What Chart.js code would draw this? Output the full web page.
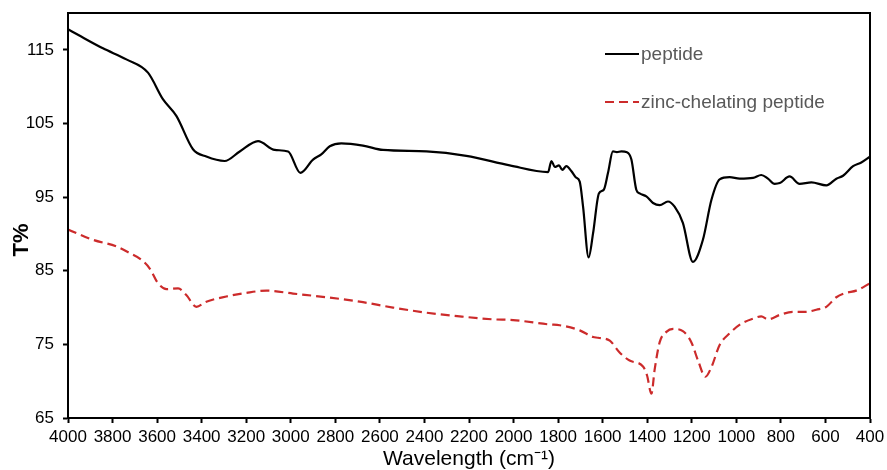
<!DOCTYPE html>
<html>
<head>
<meta charset="utf-8">
<script src="https://cdn.jsdelivr.net/npm/chart.js@4.4.1/dist/chart.umd.min.js"></script>
<style>
  body { margin: 0; background: #fff; }
  canvas { display: block; }
</style>
</head>
<body>
<canvas id="ftir" width="887" height="470"></canvas>
<script>
// wavenumbers (cm-1) and transmittance
const peptideWn = [4000, 3947, 3843, 3738, 3641, 3574, 3513, 3439, 3379, 3297, 3229, 3147, 3072, 3012, 2957,
  2900, 2863, 2825, 2773, 2676, 2586, 2391, 2212, 2017, 1845, 1830, 1815, 1796, 1781, 1763, 1740, 1721, 1703,
  1688, 1663, 1643, 1617, 1595, 1576, 1554, 1536, 1516, 1491, 1471, 1449, 1434, 1404, 1374, 1344, 1307, 1277,
  1240, 1195, 1150, 1112, 1075, 1030, 985, 925, 888, 858, 828, 805, 761, 716, 663, 596, 551, 521, 476, 439, 400];
const peptideT = [117.8, 116.9, 115.2, 113.7, 111.9, 108.3, 106.0, 101.5, 100.5, 99.9, 101.2, 102.6, 101.4, 101.2, 98.3,
  100.1, 100.8, 101.9, 102.3, 102.0, 101.4, 101.2, 100.6, 99.3, 98.4, 99.9, 99.1, 99.3, 98.7, 99.2, 98.5, 97.7, 97.1,
  93.7, 86.8, 90.1, 95.5, 96.0, 98.3, 101.2, 101.1, 101.2, 101.1, 100.1, 96.0, 95.5, 95.1, 94.2, 93.9, 94.4, 93.7,
  91.5, 86.2, 89.2, 94.6, 97.4, 97.7, 97.5, 97.6, 98.0, 97.5, 96.8, 96.9, 97.8, 96.8, 97.0, 96.6, 97.5, 97.9, 99.2, 99.7, 100.5];

const zincWn = [4000, 3888, 3783, 3723, 3671, 3633, 3596, 3558, 3506, 3469, 3424, 3379, 3289, 3199, 3109, 2990,
  2840, 2691, 2541, 2391, 2242, 2092, 2002, 1838, 1793, 1703, 1643, 1621, 1568, 1524, 1479, 1419, 1401, 1381,
  1367, 1344, 1314, 1284, 1240, 1202, 1172, 1139, 1112, 1075, 1030, 978, 925, 888, 858, 805, 746, 686, 641,
  596, 551, 507, 462, 400];
const zincT = [90.6, 89.2, 88.3, 87.4, 86.5, 85.3, 83.3, 82.5, 82.6, 81.7, 80.1, 80.8, 81.5, 82.0, 82.3, 81.9,
  81.4, 80.8, 80.0, 79.3, 78.8, 78.4, 78.3, 77.7, 77.6, 76.9, 76.0, 75.9, 75.5, 73.9, 72.8, 72.0, 70.8, 68.3,
  71.5, 75.3, 76.7, 77.1, 76.8, 75.3, 72.8, 70.6, 71.9, 74.9, 76.5, 77.8, 78.5, 78.8, 78.4, 79.0, 79.4, 79.4, 79.7,
  80.1, 81.4, 82.0, 82.3, 83.3];

const yTicks = [65, 75, 85, 95, 105, 115];
const seriesNames = ['peptide', 'zinc-chelating peptide'];

const FONT = '"Liberation Sans", Arial, sans-serif';

function toPoints(xs, ys) {
  return xs.map((x, i) => ({ x: x, y: ys[i] }));
}

// frame round the plot, rotated y title and the legend inside the plot
const extras = {
  id: 'extras',
  afterDraw(chart) {
    const ctx = chart.ctx;
    const a = chart.chartArea;
    ctx.save();
    ctx.strokeStyle = '#000';
    ctx.lineWidth = 2;
    ctx.strokeRect(a.left, a.top, a.right - a.left, a.bottom - a.top);

    ctx.save();
    ctx.translate(22, 240);
    ctx.rotate(-Math.PI / 2);
    ctx.fillStyle = '#000';
    ctx.font = 'bold 22px ' + FONT;
    ctx.textAlign = 'center';
    ctx.textBaseline = 'middle';
    ctx.fillText('T%', 0, 0);
    ctx.restore();

    const ds = chart.data.datasets;
    const rows = [54, 102];
    ds.forEach((d, i) => {
      ctx.beginPath();
      ctx.strokeStyle = d.borderColor;
      ctx.lineWidth = 2.2;
      ctx.setLineDash(d.borderDash || []);
      ctx.moveTo(605, rows[i]);
      ctx.lineTo(639, rows[i]);
      ctx.stroke();
      ctx.setLineDash([]);
      ctx.fillStyle = '#595959';
      ctx.font = '19px ' + FONT;
      ctx.textAlign = 'left';
      ctx.textBaseline = 'middle';
      ctx.fillText(d.label, 641, rows[i] + 1);
    });
    ctx.restore();
  }
};

new Chart(document.getElementById('ftir').getContext('2d'), {
  type: 'line',
  data: {
    datasets: [{
      label: seriesNames[0],
      data: toPoints(peptideWn, peptideT),
      borderColor: '#000000',
      borderWidth: 2.2,
      pointRadius: 0,
      cubicInterpolationMode: 'monotone',
      fill: false
    }, {
      label: seriesNames[1],
      data: toPoints(zincWn, zincT),
      borderColor: '#cc2b2b',
      borderWidth: 2.2,
      borderDash: [9, 5],
      pointRadius: 0,
      cubicInterpolationMode: 'monotone',
      fill: false
    }]
  },
  options: {
    responsive: false,
    animation: false,
    layout: { padding: { left: 0, right: 17, top: 13, bottom: 0 } },
    plugins: {
      legend: { display: false },
      tooltip: { enabled: false }
    },
    scales: {
      x: {
        type: 'linear',
        reverse: true,
        min: 400,
        max: 4000,
        grid: { drawOnChartArea: false, drawTicks: true, tickLength: 5, tickColor: '#000', tickWidth: 2 },
        border: { display: true, color: '#000', width: 2 },
        ticks: {
          stepSize: 200,
          autoSkip: false,
          maxRotation: 0,
          padding: 4,
          color: '#000',
          font: { family: FONT, size: 17 },
          callback: v => String(v)
        },
        title: {
          display: true,
          text: 'Wavelength (cm\u207B\u00B9)',
          color: '#000',
          font: { family: FONT, size: 21, lineHeight: 1 },
          padding: { top: 0, bottom: 0 }
        },
        afterFit(scale) {
          scale.height = 52;
          scale.paddingLeft = 0;
          scale.paddingRight = 0;
        }
      },
      y: {
        min: 65,
        max: 120,
        grid: { drawOnChartArea: false, drawTicks: true, tickLength: 5, tickColor: '#000', tickWidth: 2 },
        border: { display: true, color: '#000', width: 2 },
        ticks: {
          stepSize: 10,
          padding: 9,
          color: '#000',
          font: { family: FONT, size: 17 },
          callback: v => String(v)
        },
        afterBuildTicks(scale) { scale.ticks = yTicks.map(v => ({ value: v })); },
        afterFit(scale) {
          scale.width = 68;
          scale.paddingTop = 0;
          scale.paddingBottom = 0;
        }
      }
    }
  },
  plugins: [extras]
});
</script>
</body>
</html>
